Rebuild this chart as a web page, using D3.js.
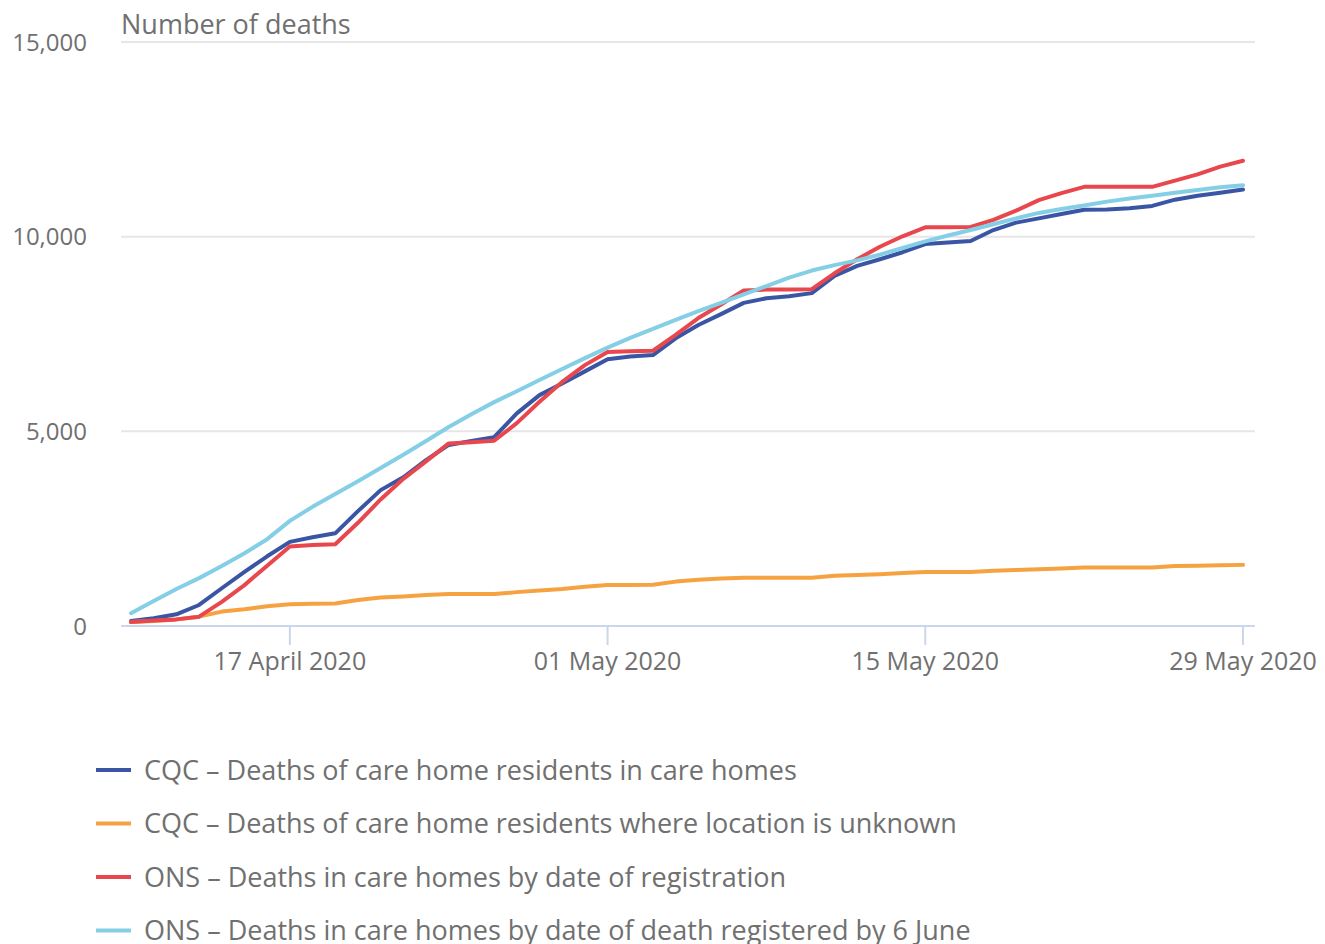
<!DOCTYPE html>
<html>
<head>
<meta charset="utf-8">
<script src="https://cdn.jsdelivr.net/npm/d3@7"></script>
<style>
  body { margin: 0; background: #fff; }
  svg text { font-family: "Open Sans", sans-serif; fill: #707070; }
</style>
</head>
<body>
<svg id="chart"></svg>
<script>
// --- data ---
const dates = [
  "2020-04-10","2020-04-11","2020-04-12","2020-04-13","2020-04-14","2020-04-15","2020-04-16",
  "2020-04-17","2020-04-18","2020-04-19","2020-04-20","2020-04-21","2020-04-22","2020-04-23",
  "2020-04-24","2020-04-25","2020-04-26","2020-04-27","2020-04-28","2020-04-29","2020-04-30",
  "2020-05-01","2020-05-02","2020-05-03","2020-05-04","2020-05-05","2020-05-06","2020-05-07",
  "2020-05-08","2020-05-09","2020-05-10","2020-05-11","2020-05-12","2020-05-13","2020-05-14",
  "2020-05-15","2020-05-16","2020-05-17","2020-05-18","2020-05-19","2020-05-20","2020-05-21",
  "2020-05-22","2020-05-23","2020-05-24","2020-05-25","2020-05-26","2020-05-27","2020-05-28",
  "2020-05-29"
];

const cqcCareHomes = [
  130, 200, 300, 540, 970, 1390, 1790, 2160, 2280, 2380,
  2950, 3490, 3820, 4260, 4650, 4750, 4850, 5460, 5930, 6230,
  6540, 6850, 6920, 6960, 7390, 7730, 8010, 8300, 8420, 8470,
  8550, 8990, 9250, 9420, 9600, 9810, 9850, 9890, 10170, 10360,
  10470, 10580, 10690, 10700, 10730, 10790, 10950, 11050, 11130, 11210
];
const cqcUnknown = [
  100, 130, 170, 240, 370, 430, 510, 560, 570, 580,
  670, 730, 760, 795, 820, 820, 820, 870, 910, 950,
  1010, 1050, 1055, 1060, 1140, 1190, 1220, 1240, 1240, 1240,
  1240, 1290, 1310, 1330, 1360, 1390, 1390, 1390, 1420, 1440,
  1460, 1480, 1500, 1500, 1500, 1500, 1540, 1550, 1560, 1570
];
const onsRegistration = [
  100, 140, 170, 240, 620, 1050, 1550, 2040, 2080, 2100,
  2650, 3250, 3780, 4230, 4690, 4720, 4760, 5210, 5760, 6270,
  6700, 7040, 7060, 7070, 7480, 7910, 8260, 8620, 8640, 8640,
  8650, 9060, 9420, 9740, 10010, 10240, 10240, 10250, 10430, 10670,
  10940, 11120, 11280, 11280, 11280, 11280, 11440, 11600, 11800, 11950
];
const onsOccurrence = [
  330, 640, 950, 1230, 1540, 1870, 2230, 2700, 3060, 3390,
  3720, 4060, 4400, 4750, 5110, 5440, 5750, 6030, 6320, 6600,
  6880, 7150, 7400, 7630, 7860, 8090, 8300, 8520, 8730, 8950,
  9130, 9270, 9390, 9540, 9710, 9880, 10030, 10170, 10320, 10470,
  10610, 10710, 10800, 10900, 10980, 11050, 11130, 11200, 11270, 11320
];

const seriesNames = [
  "CQC – Deaths of care home residents in care homes",
  "CQC – Deaths of care home residents where location is unknown",
  "ONS – Deaths in care homes by date of registration",
  "ONS – Deaths in care homes by date of death registered by 6 June"
];
const seriesColors = ["#3a55a3", "#f7a241", "#e8484d", "#84cfe6"];
const yTicks = [0, 5000, 10000, 15000];
const xTicks = ["2020-04-17", "2020-05-01", "2020-05-15", "2020-05-29"];

class LineChart {
  constructor(_config) {
    this.config = {
      parentElement: _config.parentElement,
      containerWidth: 1325,
      containerHeight: 944
    };
    this.initVis();
  }

  initVis() {
    let vis = this;
    const parse = d3.timeParse("%Y-%m-%d");
    vis.dates = dates.map(parse);
    vis.series = [cqcCareHomes, cqcUnknown, onsRegistration, onsOccurrence].map((vals, i) => ({
      name: seriesNames[i],
      color: seriesColors[i],
      values: vals.map((v, j) => ({ date: vis.dates[j], value: v }))
    }));

    vis.svg = d3.select(vis.config.parentElement)
      .attr('width', vis.config.containerWidth)
      .attr('height', vis.config.containerHeight);

    // plot frame
    vis.left = 121;
    vis.right = 1255;

    vis.xScale = d3.scaleTime()
      .domain([vis.dates[0], vis.dates[vis.dates.length - 1]])
      .range([131, 1243]);
    vis.yScale = d3.scaleLinear()
      .domain([0, 15000])
      .range([626, 42]);

    vis.renderVis();
  }

  renderVis() {
    let vis = this;
    const fmt = d3.format(",");
    const tickFmt = d3.timeFormat("%d %B %Y");

    // --- gridlines + y labels ---
    const yAxis = vis.svg.append('g');
    yAxis.selectAll('line')
      .data(yTicks.filter(d => d > 0))
      .join('line')
      .attr('x1', vis.left)
      .attr('x2', vis.right)
      .attr('y1', d => vis.yScale(d))
      .attr('y2', d => vis.yScale(d))
      .attr('stroke', '#e6e6e6')
      .attr('stroke-width', 2);
    yAxis.selectAll('text')
      .data(yTicks)
      .join('text')
      .attr('x', 87)
      .attr('y', d => vis.yScale(d))
      .attr('dy', '0.36em')
      .attr('text-anchor', 'end')
      .attr('font-size', '24px')
      .text(d => fmt(d));

    vis.svg.append('text')
      .attr('x', vis.left)
      .attr('y', 34)
      .attr('font-size', '27px')
      .text('Number of deaths');

    // --- x axis ---
    const xAxis = vis.svg.append('g');
    xAxis.append('line')
      .attr('x1', vis.left)
      .attr('x2', vis.right)
      .attr('y1', vis.yScale(0))
      .attr('y2', vis.yScale(0))
      .attr('stroke', '#ccd6ea')
      .attr('stroke-width', 2);
    const parse = d3.timeParse("%Y-%m-%d");
    const ticks = xTicks.map(parse);
    xAxis.selectAll('.tick')
      .data(ticks)
      .join('line')
      .attr('class', 'tick')
      .attr('x1', d => vis.xScale(d))
      .attr('x2', d => vis.xScale(d))
      .attr('y1', vis.yScale(0))
      .attr('y2', vis.yScale(0) + 19)
      .attr('stroke', '#ccd6ea')
      .attr('stroke-width', 2);
    xAxis.selectAll('.tickLabel')
      .data(ticks)
      .join('text')
      .attr('class', 'tickLabel')
      .attr('x', d => vis.xScale(d))
      .attr('y', 670)
      .attr('text-anchor', 'middle')
      .attr('font-size', '25px')
      .text(d => tickFmt(d));

    // --- lines ---
    vis.line = d3.line()
      .x(d => vis.xScale(d.date))
      .y(d => vis.yScale(d.value));

    vis.svg.append('g')
      .selectAll('path')
      .data(vis.series)
      .join('path')
      .attr('d', d => vis.line(d.values))
      .attr('fill', 'none')
      .attr('stroke', d => d.color)
      .attr('stroke-width', 4)
      .attr('stroke-linejoin', 'round')
      .attr('stroke-linecap', 'round');

    // --- legend ---
    const legend = vis.svg.append('g')
      .selectAll('g')
      .data(vis.series)
      .join('g')
      .attr('transform', (d, i) => `translate(96,${770 + i * 53.5})`);
    legend.append('line')
      .attr('x1', 0)
      .attr('x2', 35)
      .attr('stroke', d => d.color)
      .attr('stroke-width', 4);
    legend.append('text')
      .attr('x', 48)
      .attr('dy', '0.36em')
      .attr('font-size', '27px')
      .text(d => d.name);
  }
}

new LineChart({ parentElement: '#chart' });
</script>
</body>
</html>
